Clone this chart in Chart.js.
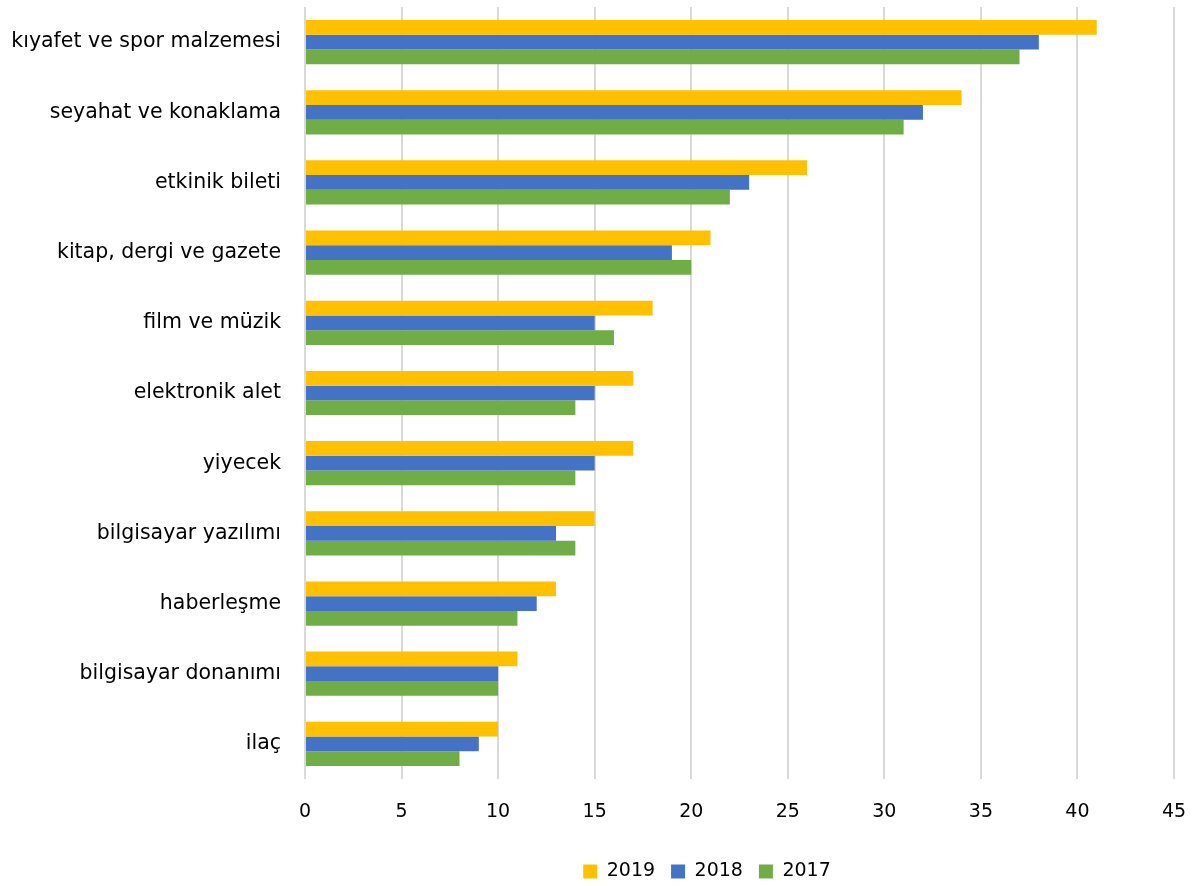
<!DOCTYPE html>
<html>
<head>
<meta charset="utf-8">
<script src="https://cdn.jsdelivr.net/npm/chart.js@4"></script>
<style>
  html, body { margin: 0; padding: 0; background: #fff; }
  #wrap { width: 1197px; height: 886px; }
</style>
</head>
<body>
<div id="wrap"><canvas id="chart" width="1197" height="886"></canvas></div>
<script>
const categories = [
  "kıyafet ve spor malzemesi",
  "seyahat ve konaklama",
  "etkinik bileti",
  "kitap, dergi ve gazete",
  "film ve müzik",
  "elektronik alet",
  "yiyecek",
  "bilgisayar yazılımı",
  "haberleşme",
  "bilgisayar donanımı",
  "ilaç",
];
const values2019 = [41, 34, 26, 21, 18, 17, 17, 15, 13, 11, 10];
const values2018 = [38, 32, 23, 19, 15, 15, 15, 13, 12, 10, 9];
const values2017 = [37, 31, 22, 20, 16, 14, 14, 14, 11, 10, 8];

const fontFamily = "'DejaVu Sans', Verdana, sans-serif";

let data = {
  labels: categories,
  datasets: [
    { label: "2019", data: values2019, backgroundColor: "#FFC000" },
    { label: "2018", data: values2018, backgroundColor: "#4472C4" },
    { label: "2017", data: values2017, backgroundColor: "#70AD47" },
  ],
};

// nudge the legend a bit right and down from its default spot
const legendShift = {
  id: "legendShift",
  afterLayout(chart) {
    const lg = chart.legend;
    lg.left += 120;
    lg.right += 120;
    lg.top += 5;
    lg.bottom += 5;
  },
};

let config = {
  type: "bar",
  data: data,
  options: {
    indexAxis: "y",
    responsive: false,
    animation: false,
    datasets: {
      bar: { categoryPercentage: 0.63, barPercentage: 1.0 },
    },
    layout: { padding: { top: 7, right: 23, left: 0, bottom: 0 } },
    scales: {
      x: {
        min: 0,
        max: 45,
        ticks: {
          stepSize: 5,
          color: "#000",
          padding: 22,
          font: { family: fontFamily, size: 19 },
        },
        grid: { color: "#d9d9d9", lineWidth: 2, drawTicks: false },
        border: { display: false },
        afterFit: (scale) => {
          scale.height = 62;
          scale.paddingLeft = 0;
          scale.paddingRight = 0;
        },
      },
      y: {
        ticks: {
          color: "#000",
          padding: 24,
          font: { family: fontFamily, size: 20.5 },
        },
        grid: { display: false, drawTicks: false },
        border: { display: false },
        afterFit: (scale) => {
          scale.width = 305;
          scale.paddingTop = 0;
          scale.paddingBottom = 0;
        },
      },
    },
    plugins: {
      legend: {
        position: "bottom",
        labels: {
          color: "#000",
          boxWidth: 14,
          boxHeight: 14,
          padding: 16,
          font: { family: fontFamily, size: 19 },
        },
      },
      tooltip: { enabled: false },
    },
  },
  plugins: [legendShift],
};

const canvas = document.getElementById("chart").getContext("2d");
const chart = new Chart(canvas, config);
</script>
</body>
</html>
